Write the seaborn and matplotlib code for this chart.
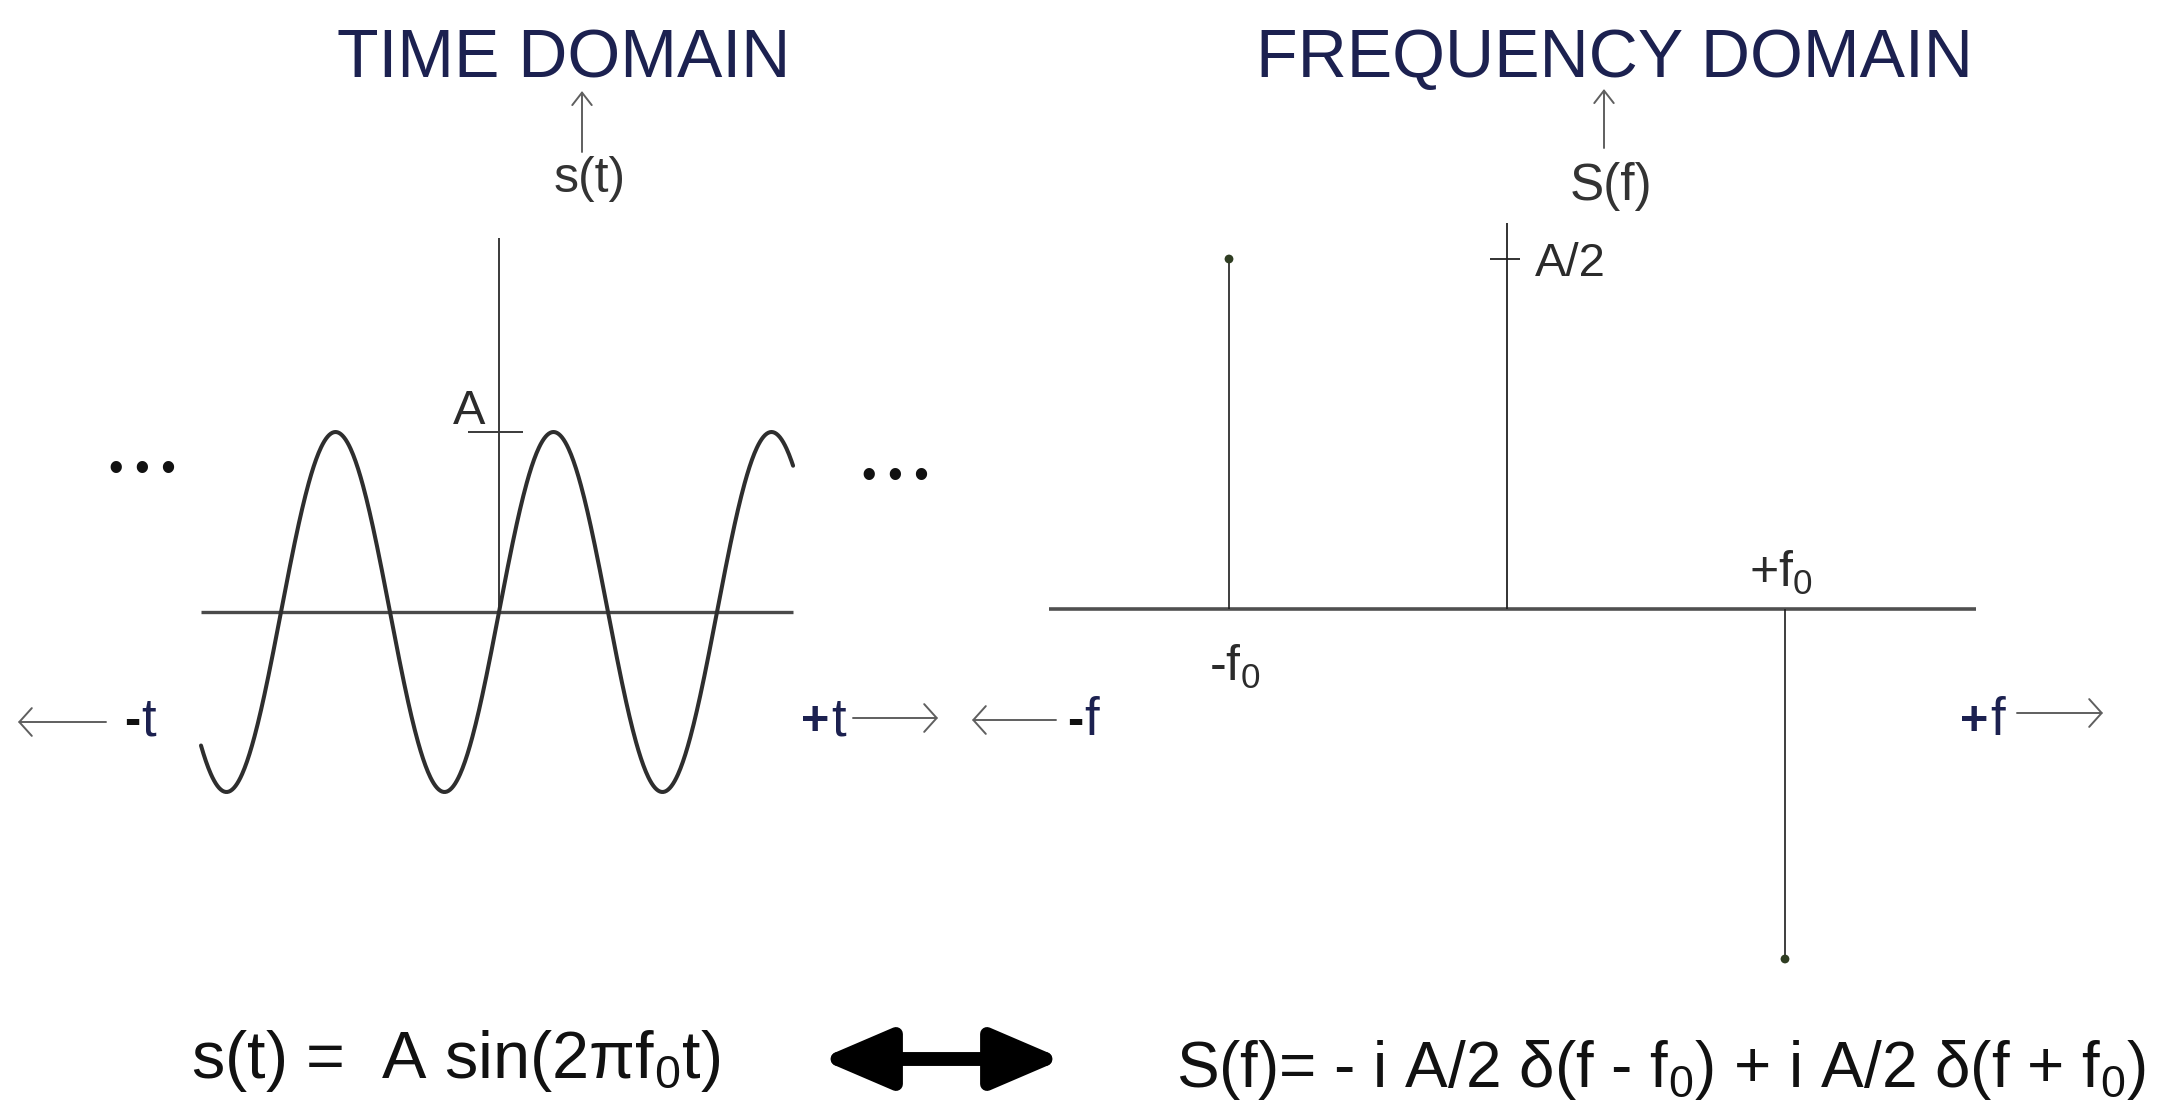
import numpy as np
import pandas as pd
import matplotlib
matplotlib.use("Agg")
import matplotlib.pyplot as plt
from matplotlib.patches import FancyArrowPatch, ArrowStyle
import seaborn as sns

# ---- signal and spectrum -------------------------------------------------
amplitude = 1.0                 # A
f0 = 1.0                        # time is measured in periods 1/f0
t_window = [-1.367, 1.349]      # visible stretch of s(t)
n_samples = 721

# S(f) = -i A/2 d(f - f0) + i A/2 d(f + f0): imaginary weights of the two spikes
spike_freqs = [-1.0, 1.0]       # in units of f0
spike_values = [0.5, -0.5]      # in units of A

# extents of the drawn axes
time_axis_span = [-1.367, 1.349]
s_axis_top = 2.078
freq_axis_span = [-1.647, 1.687]
S_axis_top = 0.551

# ---- figure --------------------------------------------------------------
W, H = 2173, 1107
sns.set_theme(style="white")
plt.rcParams["font.family"] = ["Liberation Sans", "DejaVu Sans"]
plt.rcParams["mathtext.default"] = "regular"

fig = plt.figure(figsize=(W / 100, H / 100), dpi=100)
fig.patch.set_facecolor("white")

NAVY = "#1c2150"
INK = "#2b2b2b"
GREY_ARROW = "#5f5f5f"


def fxy(px, py):
    return px / W, 1 - py / H


def axes_box(x0, y0, x1, y1):
    return [x0 / W, 1 - y1 / H, (x1 - x0) / W, (y1 - y0) / H]


# ---- time domain ---------------------------------------------------------
ax_t = fig.add_axes(axes_box(150, 220, 850, 820))
ax_t.set_xlim((150 - 499) / 218, (850 - 499) / 218)
ax_t.set_ylim((612 - 820) / 180, (612 - 220) / 180)
ax_t.set_axis_off()

t = np.linspace(t_window[0], t_window[1], n_samples)
df_t = pd.DataFrame({"t": t, "s": amplitude * np.sin(2 * np.pi * f0 * t)})
sns.lineplot(data=df_t, x="t", y="s", ax=ax_t, color="#2e2e2e", linewidth=2.9,
             sort=False, estimator=None, zorder=3)
ax_t.hlines(0, *time_axis_span, color="#4a4a4a", linewidth=2.4, zorder=2)
ax_t.vlines(0, 0, s_axis_top, color="#3a3a3a", linewidth=1.4, zorder=2)
ax_t.hlines(amplitude, -0.142, 0.11, color="#3a3a3a", linewidth=1.4, zorder=2)
ax_t.annotate("A", xy=(0, amplitude), xytext=(-14, 8), textcoords="offset pixels",
              ha="right", va="baseline", fontsize=35, color=INK)
ax_t.set_xlabel("")
ax_t.set_ylabel("")

# ---- frequency domain ----------------------------------------------------
ax_f = fig.add_axes(axes_box(1000, 200, 2150, 1000))
ax_f.set_xlim((1000 - 1507) / 278, (2150 - 1507) / 278)
ax_f.set_ylim((609 - 1000) / 700, (609 - 200) / 700)
ax_f.set_axis_off()

ax_f.hlines(0, *freq_axis_span, color="#505050", linewidth=2.6, zorder=2)
ax_f.vlines(0, 0, S_axis_top, color="#222222", linewidth=1.3, zorder=2)
ax_f.hlines(amplitude / 2, -0.061, 0.047, color="#222222", linewidth=1.3, zorder=2)
ax_f.annotate("A/2", xy=(0, amplitude / 2), xytext=(28, -17), textcoords="offset pixels",
              ha="left", va="baseline", fontsize=34, color=INK)

ax_f.vlines(spike_freqs, 0, spike_values, color="#1e1e1e", linewidth=1.2, zorder=3)
df_f = pd.DataFrame({"f": spike_freqs, "S": spike_values})
sns.scatterplot(data=df_f, x="f", y="S", ax=ax_f, color="#2f3d22", s=40,
                edgecolor="none", zorder=4, legend=False)
ax_f.set_xlabel("")
ax_f.set_ylabel("")

ax_f.annotate("-f$_0$", xy=(spike_freqs[0], 0), xytext=(6, -72), textcoords="offset pixels",
              ha="center", va="baseline", fontsize=36, color=INK)
ax_f.annotate("+f$_0$", xy=(spike_freqs[1], 0), xytext=(-4, 22), textcoords="offset pixels",
              ha="center", va="baseline", fontsize=36, color=INK)

# ---- titles and axis names ----------------------------------------------
fig.text(*fxy(564, 77), "TIME DOMAIN", ha="center", va="baseline",
         fontsize=49, color=NAVY)
fig.text(*fxy(1614, 77), "FREQUENCY DOMAIN", ha="center", va="baseline",
         fontsize=49, color=NAVY)
fig.text(*fxy(590, 192), "s(t)", ha="center", va="baseline", fontsize=36, color="#333333")
fig.text(*fxy(1611, 200), "S(f)", ha="center", va="baseline", fontsize=37, color="#333333")


def arrow(p0, p1, color=GREY_ARROW, lw=1.4, hl=0.45, hw=0.5):
    fig.add_artist(FancyArrowPatch(
        fxy(*p0), fxy(*p1), transform=fig.transFigure,
        arrowstyle=ArrowStyle("->", head_length=hl, head_width=hw),
        mutation_scale=20, linewidth=lw, color=color, shrinkA=0, shrinkB=0))


arrow((582, 152), (582, 91), hw=0.35)
arrow((1604, 148), (1604, 89), hw=0.35)

# direction markers along each axis
arrow((106, 722), (18, 722))
arrow((853, 718), (938, 718))
arrow((1056, 720), (972, 720))
arrow((2017, 713), (2103, 713))


def axis_end_label(x, sign, letter, sign_color):
    fig.text(*fxy(x, 735), sign, ha="left", va="baseline", fontsize=35,
             fontweight="bold", color=sign_color)
    step = 30 if sign == "+" else 17
    fig.text(*fxy(x + step, 735), letter, ha="left", va="baseline", fontsize=38,
             color=NAVY)


axis_end_label(124, "-", "t", "#111111")
axis_end_label(801, "+", "t", NAVY)
axis_end_label(1067, "-", "f", "#111111")
axis_end_label(1960, "+", "f", NAVY)

# continuation dots
fig.text(*fxy(142, 481), "\u2022 \u2022 \u2022", ha="center", va="baseline", fontsize=30,
         color="#111111")
fig.text(*fxy(895, 488), "\u2022 \u2022 \u2022", ha="center", va="baseline", fontsize=30,
         color="#111111")

# ---- transform pair ------------------------------------------------------
fig.text(*fxy(191, 1078), "s(t) =  A sin(2\u03c0f$_0$t)", ha="left", va="baseline",
         fontsize=48, color="#111111")
fig.text(*fxy(1176, 1087), "S(f)= - i A/2 \u03b4(f - f$_0$) + i A/2 \u03b4(f + f$_0$)",
         ha="left", va="baseline", fontsize=46, color="#111111")

fig.add_artist(FancyArrowPatch(
    fxy(820, 1059), fxy(1063, 1059), transform=fig.transFigure,
    arrowstyle=ArrowStyle("<|-|>", head_length=1.05, head_width=0.45),
    mutation_scale=40, linewidth=10, color="black", joinstyle="round",
    shrinkA=0, shrinkB=0))

fig.savefig("out.png", dpi=100, facecolor="white")
